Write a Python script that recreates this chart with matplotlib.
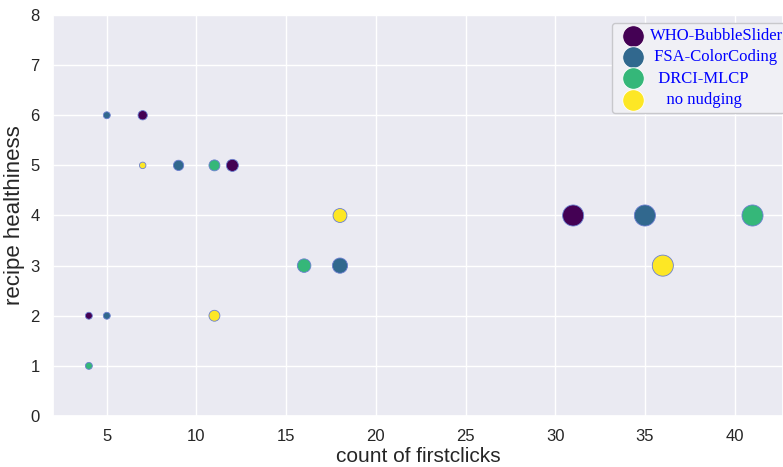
import matplotlib
matplotlib.use("Agg")
import matplotlib.pyplot as plt
import seaborn as sns

sns.set_theme(style="darkgrid")
plt.rcParams['font.family'] = ['Liberation Sans', 'DejaVu Sans']

series = ["WHO-BubbleSlider", "FSA-ColorCoding", "DRCI-MLCP", "no nudging"]
legend_labels = ["WHO-BubbleSlider", " FSA-ColorCoding", "  DRCI-MLCP", "    no nudging"]
colors = ["#440154", "#31688e", "#35b779", "#fde725"]

who_x = [4, 7, 12, 31]
who_y = [2, 6, 5, 4]
who_s = [25, 45, 75, 230]

fsa_x = [5, 5, 9, 18, 35]
fsa_y = [6, 2, 5, 3, 4]
fsa_s = [25, 25, 55, 120, 230]

drci_x = [4, 11, 16, 41]
drci_y = [1, 5, 3, 4]
drci_s = [25, 62, 95, 230]

nn_x = [7, 11, 18, 36]
nn_y = [5, 2, 4, 3]
nn_s = [22, 62, 100, 230]

xs = [who_x, fsa_x, drci_x, nn_x]
ys = [who_y, fsa_y, drci_y, nn_y]
ss = [who_s, fsa_s, drci_s, nn_s]

W, H = 783, 467
fig = plt.figure(figsize=(W / 100, H / 100), dpi=100)
ax = fig.add_axes([53 / W, 51 / H, 1 - 53 / W, 401 / H])

for lab, c, x, y, s in zip(legend_labels, colors, xs, ys, ss):
    ax.scatter(x, y, s=s, c=c, edgecolors="#6b7fd0", linewidths=0.6, label=lab, zorder=3)

ax.set_xlim(2.0, 42.7)
ax.set_ylim(0, 8)
ax.set_xticks([5, 10, 15, 20, 25, 30, 35, 40])
ax.set_yticks(range(0, 9))
ax.tick_params(labelsize=12)
ax.set_xlabel("count of firstclicks", fontsize=15, labelpad=2)
ax.set_ylabel("recipe healthiness", fontsize=16)

leg = ax.legend(loc="upper left", bbox_to_anchor=(612 / W, 1 - 23 / H),
                bbox_transform=fig.transFigure, borderaxespad=0,
                prop={'family': 'Liberation Serif', 'size': 12}, frameon=True,
                handletextpad=0.1, labelspacing=0.32, borderpad=0.3,
                handlelength=1.9, fancybox=True)
for h in leg.legend_handles:
    h.set_sizes([240])
    h.set_edgecolor("white")
for t in leg.get_texts():
    t.set_color("blue")
leg.get_frame().set_facecolor("#f0f0f5")
leg.get_frame().set_alpha(1)
leg.get_frame().set_edgecolor("#c8c8cc")

fig.savefig("out.png", dpi=100)
